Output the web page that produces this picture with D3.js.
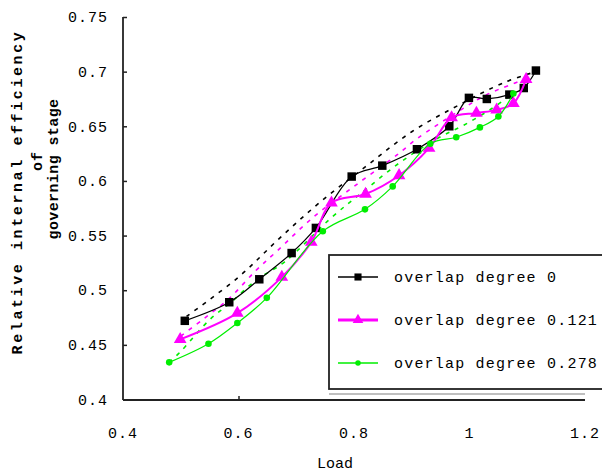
<!DOCTYPE html>
<html lang="en">
  <head>
    <meta charset="utf-8" />
    <title>Relative internal efficiency</title>
    <script src="https://d3js.org/d3.v7.min.js"></script>
    <style>
      body { margin: 0; background: #fff; }
      text { font-family: "Liberation Mono", "DejaVu Sans Mono", monospace; fill: #000; }
    </style>
  </head>
  <body>
    <div id="chart"></div>
    <script>
      // data
      var load0 = [0.507, 0.584, 0.636, 0.692, 0.734, 0.796, 0.849, 0.909, 0.965, 0.999, 1.030, 1.069, 1.094, 1.115];
      var eff0 = [0.472, 0.489, 0.510, 0.534, 0.557, 0.604, 0.614, 0.629, 0.650, 0.676, 0.675, 0.679, 0.685, 0.701];

      var load121 = [0.499, 0.598, 0.675, 0.726, 0.761, 0.820, 0.878, 0.930, 0.969, 1.012, 1.047, 1.076, 1.098];
      var eff121 = [0.455, 0.479, 0.512, 0.544, 0.580, 0.588, 0.605, 0.630, 0.658, 0.662, 0.665, 0.671, 0.693];

      var load278 = [0.480, 0.548, 0.598, 0.649, 0.746, 0.819, 0.867, 0.932, 0.977, 1.018, 1.050, 1.076];
      var eff278 = [0.434, 0.451, 0.470, 0.493, 0.554, 0.574, 0.595, 0.634, 0.640, 0.649, 0.659, 0.680];

      // dashed trend lines
      var trendLoad0 = [0.51, 0.60, 0.67, 0.74, 0.82, 0.90, 0.98, 1.06, 1.115];
      var trendEff0 = [0.476, 0.512, 0.547, 0.580, 0.613, 0.645, 0.669, 0.690, 0.700];
      var trendLoad121 = [0.50, 0.54, 0.585, 0.63, 0.665, 0.73, 0.80, 0.875, 0.91, 0.985, 1.03, 1.085, 1.098];
      var trendEff121 = [0.458, 0.474, 0.493, 0.518, 0.535, 0.567, 0.595, 0.624, 0.639, 0.665, 0.679, 0.691, 0.694];
      var trendLoad278 = [0.48, 0.50, 0.55, 0.585, 0.63, 0.68, 0.76, 0.82, 0.88, 0.945, 0.99, 1.035, 1.076];
      var trendEff278 = [0.434, 0.444, 0.473, 0.488, 0.509, 0.526, 0.566, 0.592, 0.617, 0.639, 0.651, 0.665, 0.680];

      var xTicks = [0.4, 0.6, 0.8, 1, 1.2];
      var yTicks = [0.4, 0.45, 0.5, 0.55, 0.6, 0.65, 0.7, 0.75];
      var names = ["overlap degree 0", "overlap degree 0.121", "overlap degree 0.278"];
      var colors = ["#000000", "#ff00ff", "#00ee00"];

      var width = 602, height = 473;
      var svg = d3.select("#chart").append("svg")
        .attr("width", width)
        .attr("height", height);

      var x = d3.scaleLinear().domain([0.4, 1.2]).range([123, 585]);
      var y = d3.scaleLinear().domain([0.4, 0.75]).range([399.5, 17]);

      function zip(a, b) {
        return a.map(function (d, i) { return [d, b[i]]; });
      }

      var series = [
        { pts: zip(load0, eff0), trend: zip(trendLoad0, trendEff0), sym: d3.symbolSquare, size: 72, lw: 1.2 },
        { pts: zip(load121, eff121), trend: zip(trendLoad121, trendEff121), sym: d3.symbolTriangle, size: 70, lw: 2 },
        { pts: zip(load278, eff278), trend: zip(trendLoad278, trendEff278), sym: d3.symbolCircle, size: 34, lw: 1.2 }
      ];

      var line = d3.line()
        .x(function (d) { return x(d[0]); })
        .y(function (d) { return y(d[1]); })
        .curve(d3.curveCatmullRom);

      // dashed trend lines
      svg.selectAll("path.trend")
        .data(series)
        .enter()
        .append("path")
        .attr("class", "trend")
        .attr("d", function (d) { return line(d.trend); })
        .attr("fill", "none")
        .attr("stroke", function (d, i) { return colors[i]; })
        .attr("stroke-width", 1.6)
        .attr("stroke-dasharray", "4,6");

      // series lines + markers
      series.forEach(function (s, i) {
        svg.append("path")
          .attr("d", line(s.pts))
          .attr("fill", "none")
          .attr("stroke", colors[i])
          .attr("stroke-width", s.lw);

        svg.selectAll("path.m" + i)
          .data(s.pts)
          .enter()
          .append("path")
          .attr("class", "m" + i)
          .attr("transform", function (d) { return "translate(" + x(d[0]) + "," + y(d[1]) + ")"; })
          .attr("d", d3.symbol().type(s.sym).size(s.size))
          .attr("fill", colors[i]);
      });

      // axes
      var yAxis = d3.axisLeft(y).tickValues(yTicks).tickSize(-4).tickFormat("");
      var gy = svg.append("g").attr("transform", "translate(123,0)").call(yAxis);
      gy.select(".domain").attr("d", "M0," + y(0.75) + "V" + (y(0.4) + 0.5));

      var xAxis = d3.axisBottom(x).tickValues([0.6]).tickSize(-4).tickFormat("");
      var gx = svg.append("g").attr("transform", "translate(0,400)").call(xAxis);
      gx.select(".domain").attr("d", "M123,0H585");

      svg.selectAll(".domain").attr("stroke", "#222").attr("stroke-width", 1.8);
      svg.selectAll(".tick line").attr("stroke", "#222").attr("stroke-width", 1.5);

      // tick labels
      svg.selectAll("text.ylab")
        .data(yTicks)
        .enter()
        .append("text")
        .attr("class", "ylab")
        .attr("x", 108)
        .attr("y", function (d) { return y(d); })
        .attr("dy", "0.35em")
        .attr("text-anchor", "end")
        .style("font-size", "15px")
        .style("letter-spacing", "1px")
        .text(function (d) { return d; });

      svg.selectAll("text.xlab")
        .data(xTicks)
        .enter()
        .append("text")
        .attr("class", "xlab")
        .attr("x", function (d) { return x(d); })
        .attr("y", 438)
        .attr("text-anchor", "middle")
        .style("font-size", "15px")
        .style("letter-spacing", "1px")
        .text(function (d) { return d; });

      svg.append("text")
        .attr("x", 335)
        .attr("y", 468)
        .attr("text-anchor", "middle")
        .style("font-size", "15px")
        .text("Load");

      // y title, three lines
      var titleLines = [
        { t: "Relative internal efficiency", x: 22, cy: 192, ls: "2.6px" },
        { t: "of", x: 42, cy: 161, ls: "1px" },
        { t: "governing stage", x: 58, cy: 169, ls: "0.4px" }
      ];
      svg.selectAll("text.ytitle")
        .data(titleLines)
        .enter()
        .append("text")
        .attr("class", "ytitle")
        .attr("transform", function (d) { return "translate(" + d.x + "," + d.cy + ") rotate(-90)"; })
        .attr("text-anchor", "middle")
        .style("font-size", "15px")
        .style("font-weight", "bold")
        .style("letter-spacing", function (d) { return d.ls; })
        .text(function (d) { return d.t; });

      // legend
      var lg = svg.append("g");
      lg.append("rect")
        .attr("x", 329).attr("y", 255)
        .attr("width", 290).attr("height", 143)
        .attr("fill", "#fff");
      lg.append("rect")
        .attr("x", 329).attr("y", 255)
        .attr("width", 290).attr("height", 134)
        .attr("fill", "none")
        .attr("stroke", "#222")
        .attr("stroke-width", 1.8);
      lg.append("line")
        .attr("x1", 329).attr("x2", 585)
        .attr("y1", 394).attr("y2", 394)
        .attr("stroke", "#aaa")
        .attr("stroke-width", 1.5);

      var items = lg.selectAll("g.item")
        .data(series)
        .enter()
        .append("g")
        .attr("class", "item")
        .attr("transform", function (d, i) { return "translate(0," + (277 + i * 43) + ")"; });

      items.append("line")
        .attr("x1", 338).attr("x2", 378)
        .attr("stroke", function (d, i) { return colors[i]; })
        .attr("stroke-width", function (d, i) { return i === 1 ? 3 : 1.3; });

      items.append("path")
        .attr("transform", "translate(358,0)")
        .attr("d", function (d) { return d3.symbol().type(d.sym).size(d.size * 0.7)(); })
        .attr("fill", function (d, i) { return colors[i]; });

      items.append("text")
        .attr("x", 394)
        .attr("dy", "0.35em")
        .style("font-size", "15px")
        .style("letter-spacing", "1.2px")
        .text(function (d, i) { return names[i]; });
    </script>
  </body>
</html>
